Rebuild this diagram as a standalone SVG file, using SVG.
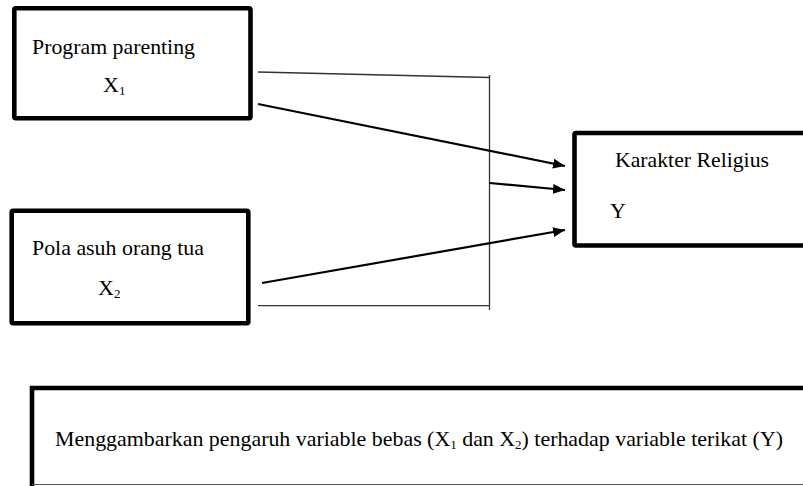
<svg xmlns="http://www.w3.org/2000/svg" width="803" height="486" viewBox="0 0 803 486">
<defs>
<style>
.box{fill:#fff;stroke:#000;stroke-width:4.6}
text{font-family:'Liberation Serif','Times New Roman',Times,serif;font-size:22px;fill:#000}
.sub{font-size:13px}
.thin{fill:none;stroke:#333;stroke-width:1.3}
.arr{fill:none;stroke:#000;stroke-width:2.2;marker-end:url(#ah)}
</style>
<marker id="ah" viewBox="0 0 12 10" refX="12" refY="5" markerWidth="12" markerHeight="10" markerUnits="userSpaceOnUse" orient="auto">
<path d="M0,0 L12,5 L0,10 Z" fill="#000"/>
</marker>
</defs>
<rect width="803" height="486" fill="#fff"/>
<g id="connectors">
<polyline class="thin" points="258,72 489.5,77.5"/>
<line class="thin" x1="489.5" y1="75" x2="489.5" y2="310"/>
<line class="thin" x1="258" y1="305.7" x2="489.5" y2="305.7"/>
<line class="arr" x1="258" y1="104" x2="565" y2="166"/>
<line class="arr" x1="489.5" y1="183" x2="565" y2="190"/>
<line class="arr" x1="262" y1="283" x2="565" y2="230"/>
</g>
<g id="x1">
<rect class="box" x="14.3" y="8.3" width="236.2" height="110" rx="1.5"/>
<text x="32" y="54" textLength="163" lengthAdjust="spacingAndGlyphs">Program parenting</text>
<text x="103" y="92">X<tspan class="sub" dy="3">1</tspan></text>
</g>
<g id="x2">
<rect class="box" x="11.7" y="210.8" width="236.6" height="112.5" rx="1.5"/>
<text x="32" y="255" textLength="172" lengthAdjust="spacingAndGlyphs">Pola asuh orang tua</text>
<text x="98" y="295">X<tspan class="sub" dy="3">2</tspan></text>
</g>
<g id="y">
<rect class="box" x="574.5" y="133" width="240" height="112.5" rx="1.5"/>
<text x="615" y="167" textLength="154" lengthAdjust="spacingAndGlyphs">Karakter Religius</text>
<text x="610" y="218">Y</text>
</g>
<g id="note">
<path d="M32,486 V388 H815" fill="none" stroke="#000" stroke-width="4.6"/>
<line x1="32" y1="484.5" x2="803" y2="484.5" stroke="#555" stroke-width="1.2"/>
<text x="55" y="446" textLength="728" lengthAdjust="spacingAndGlyphs">Menggambarkan pengaruh variable bebas (X<tspan class="sub" dy="3">1</tspan><tspan dy="-3"> dan X</tspan><tspan class="sub" dy="3">2</tspan><tspan dy="-3">) terhadap variable terikat (Y)</tspan></text>
</g>
</svg>
